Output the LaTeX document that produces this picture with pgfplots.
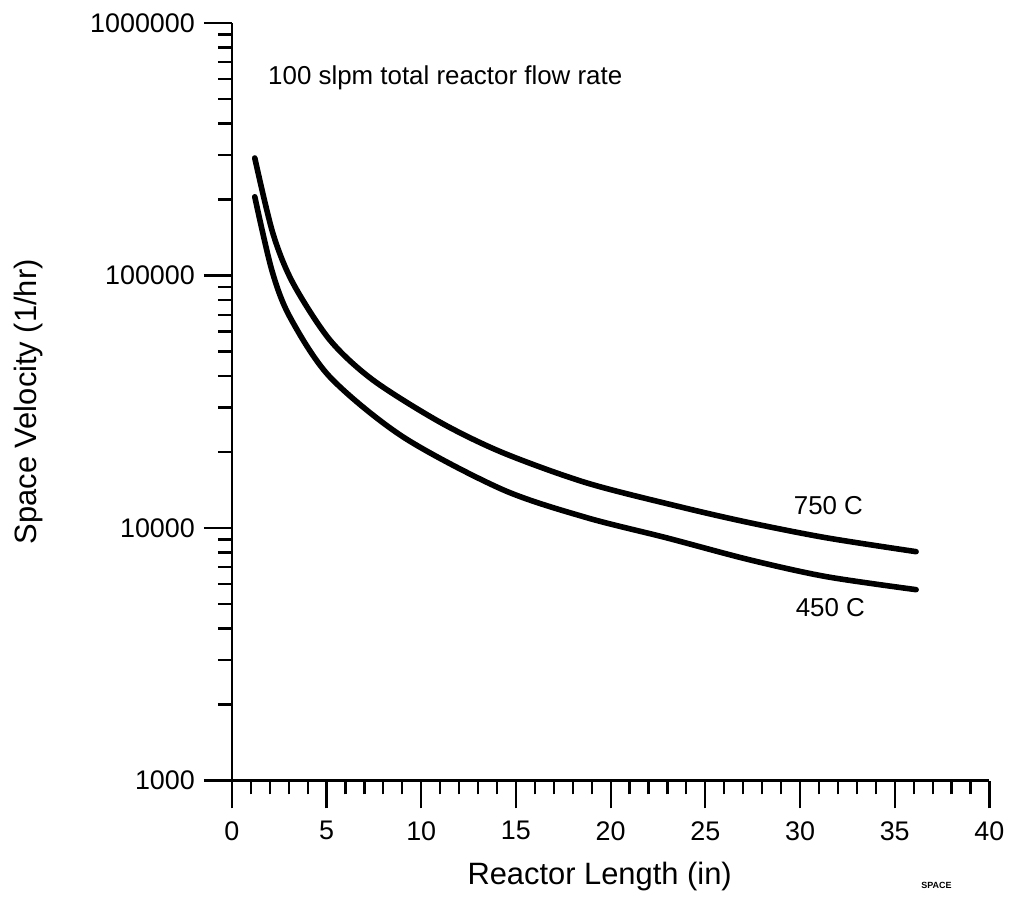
\documentclass[border=0pt]{standalone}
\usepackage{pgfplots}
\pgfplotsset{compat=1.18}
\usepackage{fontspec}
\setmainfont{Liberation Sans}

\begin{document}
\begin{tikzpicture}
\begin{axis}[
    name=ax,
    scale only axis,
    width=379bp, height=379bp,
    xmin=0, xmax=40,
    ymode=log, ymin=1000, ymax=1000000,
    axis x line*=bottom,
    axis y line*=left,
    axis line style={-, line width=1.1pt},
    tick align=outside,
    major tick length=14bp,
    minor tick length=7bp,
    every tick/.style={black, line width=1.1pt},
    xtick={0,5,...,40},
    minor x tick num=4,
    ytick={1000,10000,100000,1000000},
    log ticks with fixed point,
    /pgf/number format/1000 sep={},
    /pgf/number format/assume math mode=true,
    tick label style={font=\fontsize{13.5}{16}\selectfont},
    xticklabel style={yshift=-3bp},
    yticklabel style={xshift=-1bp},
    xlabel={Reactor Length (in)},
    ylabel={Space Velocity (1/hr)},
    label style={font=\fontsize{15.5}{18}\selectfont},
    xlabel style={at={(axis description cs:0.4855,-0.127)}, anchor=center},
    ylabel style={at={(axis description cs:-0.268,0.5)}, anchor=center},
    clip=false,
]
% 750 C
\addplot[black, line width=2.8bp, line cap=round, smooth, tension=0.5] coordinates {
    (1.21,292000) (2.16,147500) (3.22,93500) (5.17,55600) (7.44,38600)
    (10.97,26300) (14.29,19900) (18.72,15100) (23.63,12150) (27.32,10500)
    (31.38,9150) (36.13,8060)
};
% 450 C
\addplot[black, line width=2.8bp, line cap=round, smooth, tension=0.5] coordinates {
    (1.21,205000) (2.11,105000) (3.06,68600) (5.17,39700) (9.02,23000)
    (14.29,14200) (18.72,11000) (22.94,9150) (27.32,7490) (31.38,6420)
    (36.13,5700)
};
\node[anchor=west, font=\fontsize{13}{15}\selectfont, inner sep=0pt] at (axis cs:1.9,605000) {100 slpm total reactor flow rate};
\node[font=\fontsize{13}{15}\selectfont, inner sep=0pt] at (axis cs:31.5,12250) {750 C};
\node[font=\fontsize{13}{15}\selectfont, inner sep=0pt] at (axis cs:31.6,4840) {450 C};
\node[font=\fontsize{4.5}{5}\selectfont\bfseries, inner sep=0pt] at (rel axis cs:0.930,-0.1385) {SPACE};
\end{axis}
\path ([xshift=-116bp,yshift=-60bp]ax.south west) rectangle ([xshift=10.5bp,yshift=11.5bp]ax.north east);
\end{tikzpicture}
\end{document}
